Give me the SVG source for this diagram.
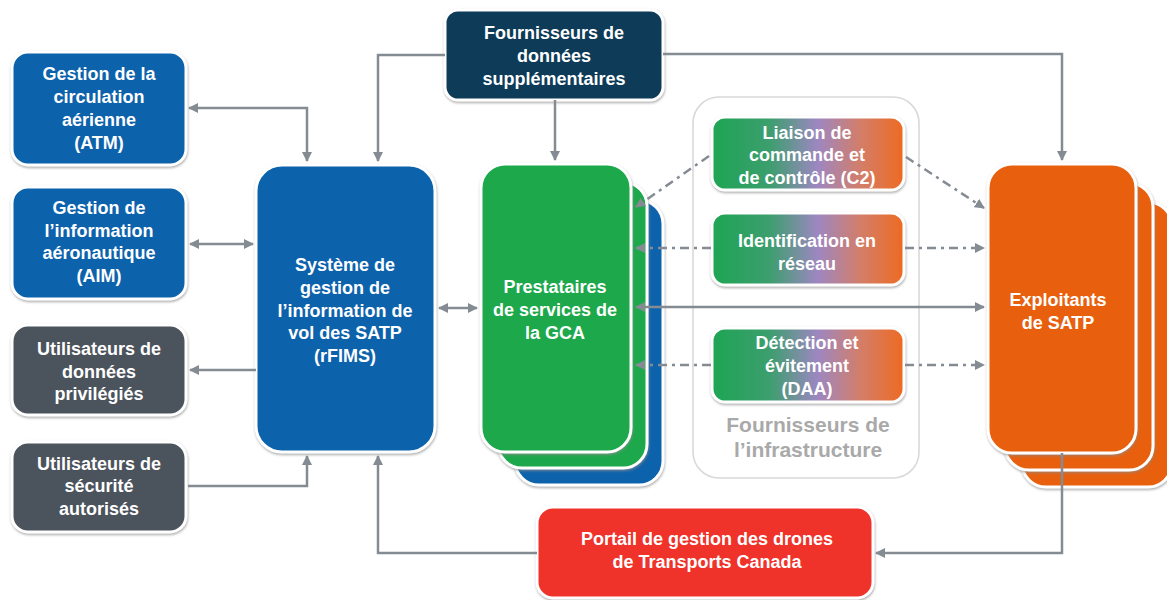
<svg xmlns="http://www.w3.org/2000/svg" width="1167" height="600" viewBox="0 0 1167 600">
<style>
  .t{font-family:"Liberation Sans",Arial,sans-serif;font-weight:bold;font-size:18px;fill:#fff;text-anchor:middle}
  .infra{font-family:"Liberation Sans",Arial,sans-serif;font-weight:bold;font-size:21px;fill:#a9a9a9;text-anchor:middle}
  .box{stroke:#fff;stroke-width:3;filter:url(#sh)}
  .blue{fill:#0a62ac}
  .gray{fill:#4c535d}
  .navy{fill:#0e3b58}
  .green{fill:#1aa84b}
  .orange{fill:#e85e0b}
  .red{fill:#ef332b}
  .grad{fill:url(#g)}
  .c{fill:none;stroke:#858b93;stroke-width:2.5}
  .dd{stroke-dasharray:9 5 3 5}
</style>
<defs>
  <filter id="sh" x="-10%" y="-10%" width="120%" height="120%">
    <feDropShadow dx="0.5" dy="1.5" stdDeviation="1.2" flood-color="#8a8a8a" flood-opacity="0.7"/>
  </filter>
  <linearGradient id="g" x1="0" y1="0" x2="1" y2="0">
    <stop offset="0" stop-color="#1ea553"/>
    <stop offset="0.3" stop-color="#3c9e6e"/>
    <stop offset="0.55" stop-color="#9d87c1"/>
    <stop offset="0.78" stop-color="#d47d66"/>
    <stop offset="1" stop-color="#ee6a22"/>
  </linearGradient>
  <marker id="a" viewBox="0 0 10 10" refX="9" refY="5" markerWidth="4" markerHeight="4" orient="auto-start-reverse" markerUnits="strokeWidth">
    <path d="M0,0 L10,5 L0,10 z" fill="#858b93"/>
  </marker>
</defs>
<rect width="1167" height="600" fill="#fff"/>

<!-- infrastructure container -->
<g id="infra-container">
  <rect x="693" y="97" width="226" height="381" rx="26" fill="none" stroke="#d9d9d9" stroke-width="1.6"/>
  <text class="infra" x="808" y="432">Fournisseurs de</text>
  <text class="infra" x="808" y="457">l’infrastructure</text>
</g>

<g id="atm">
  <rect class="box blue" x="12" y="52" width="174" height="113" rx="16"/>
  <text class="t" x="99" y="80">Gestion de la</text>
  <text class="t" x="99" y="103">circulation</text>
  <text class="t" x="99" y="126">aérienne</text>
  <text class="t" x="99" y="149">(ATM)</text>
</g>
<g id="aim">
  <rect class="box blue" x="12" y="187" width="174" height="112" rx="16"/>
  <text class="t" x="99" y="214">Gestion de</text>
  <text class="t" x="99" y="237">l’information</text>
  <text class="t" x="99" y="259">aéronautique</text>
  <text class="t" x="99" y="282">(AIM)</text>
</g>
<g id="privileges">
  <rect class="box gray" x="12" y="325" width="174" height="90" rx="16"/>
  <text class="t" x="99" y="355">Utilisateurs de</text>
  <text class="t" x="99" y="378">données</text>
  <text class="t" x="99" y="400">privilégiés</text>
</g>
<g id="securite">
  <rect class="box gray" x="12" y="442" width="174" height="90" rx="16"/>
  <text class="t" x="99" y="470">Utilisateurs de</text>
  <text class="t" x="99" y="492">sécurité</text>
  <text class="t" x="99" y="515">autorisés</text>
</g>
<g id="rfims">
  <rect class="box blue" x="256" y="165" width="179" height="287" rx="26"/>
  <text class="t" x="345" y="271">Système de</text>
  <text class="t" x="345" y="294">gestion de</text>
  <text class="t" x="345" y="317">l’information de</text>
  <text class="t" x="345" y="339">vol des SATP</text>
  <text class="t" x="345" y="362">(rFIMS)</text>
</g>
<g id="fournisseurs-donnees">
  <rect class="box navy" x="445" y="10" width="218" height="90" rx="13"/>
  <text class="t" x="554" y="39">Fournisseurs de</text>
  <text class="t" x="554" y="62">données</text>
  <text class="t" x="554" y="85">supplémentaires</text>
</g>
<g id="prestataires">
  <rect class="box blue" x="515" y="200" width="148" height="285" rx="24"/>
  <rect class="box green" x="498" y="182" width="149" height="286" rx="24"/>
  <rect class="box green" x="481" y="164" width="150" height="288" rx="24"/>
  <text class="t" x="555" y="293">Prestataires</text>
  <text class="t" x="555" y="316">de services de</text>
  <text class="t" x="555" y="339">la GCA</text>
</g>
<g id="c2">
  <rect class="box grad" x="712" y="117" width="192" height="73" rx="13"/>
  <text class="t" x="807" y="139">Liaison de</text>
  <text class="t" x="807" y="161">commande et</text>
  <text class="t" x="807" y="184">de contrôle (C2)</text>
</g>
<g id="identification">
  <rect class="box grad" x="712" y="213" width="192" height="72" rx="13"/>
  <text class="t" x="807" y="247">Identification en</text>
  <text class="t" x="807" y="270">réseau</text>
</g>
<g id="daa">
  <rect class="box grad" x="712" y="328" width="192" height="74" rx="13"/>
  <text class="t" x="807" y="349">Détection et</text>
  <text class="t" x="807" y="372">évitement</text>
  <text class="t" x="807" y="395">(DAA)</text>
</g>
<g id="exploitants">
  <rect class="box orange" x="1022" y="202" width="150" height="285" rx="24"/>
  <rect class="box orange" x="1005" y="183" width="148" height="287" rx="24"/>
  <rect class="box orange" x="988" y="164" width="148" height="289" rx="24"/>
  <text class="t" x="1058" y="306">Exploitants</text>
  <text class="t" x="1058" y="329">de SATP</text>
</g>
<g id="portail">
  <rect class="box red" x="537" y="507" width="336" height="91" rx="16"/>
  <text class="t" x="707" y="545">Portail de gestion des drones</text>
  <text class="t" x="707" y="568">de Transports Canada</text>
</g>

<g id="connectors">
  <path class="c" d="M189,108 H307 V161" marker-start="url(#a)" marker-end="url(#a)"/>
  <path class="c" d="M445,55 H378 V161" marker-end="url(#a)"/>
  <path class="c" d="M190,244 H253" marker-start="url(#a)" marker-end="url(#a)"/>
  <path class="c" d="M256,370 H190" marker-end="url(#a)"/>
  <path class="c" d="M188,486 H307 V456" marker-end="url(#a)"/>
  <path class="c" d="M537,553 H378 V456" marker-end="url(#a)"/>
  <path class="c" d="M439,308 H477" marker-start="url(#a)" marker-end="url(#a)"/>
  <path class="c" d="M555,100 V160" marker-end="url(#a)"/>
  <path class="c" d="M663,54 H1062 V160" marker-end="url(#a)"/>
  <path class="c" d="M1062,453 V553 H876" marker-end="url(#a)"/>
  <path class="c dd" d="M709,156 L636,207" marker-end="url(#a)"/>
  <path class="c dd" d="M906,157 L984,208" marker-end="url(#a)"/>
  <path class="c dd" d="M711,248 H636" marker-end="url(#a)"/>
  <path class="c dd" d="M905,248 H984" marker-end="url(#a)"/>
  <path class="c" d="M636,307 H984" marker-start="url(#a)" marker-end="url(#a)"/>
  <path class="c dd" d="M711,365 H636" marker-end="url(#a)"/>
  <path class="c dd" d="M905,365 H984" marker-end="url(#a)"/>
</g>
</svg>
